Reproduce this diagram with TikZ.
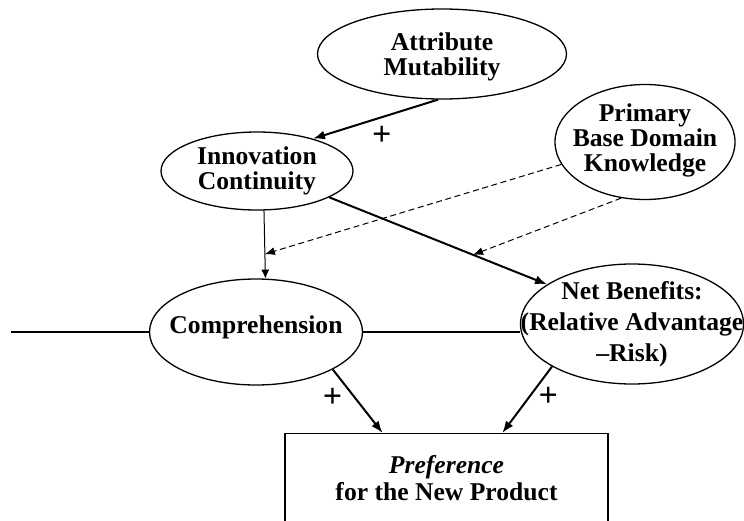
\documentclass[tikz,border=0pt]{standalone}
\usepackage{fontspec}
\setmainfont{Liberation Serif}
\usetikzlibrary{shapes.geometric,arrows.meta,calc}

\tikzset{
  oval/.style={ellipse, draw, line width=0.65pt, inner sep=0pt},
  txt/.style={font=\fontsize{12.8}{12.5}\selectfont\bfseries, align=center, inner sep=0pt},
  outcome/.style={draw, line width=0.7pt, minimum width=161.5pt, inner xsep=0pt, inner ysep=11pt,
    font=\fontsize{12.8}{13.5}\selectfont\bfseries, align=center},
  arr/.style={-{Latex[length=6pt,width=4.5pt]}, line width=1pt},
  thinarr/.style={-{Latex[length=4.5pt,width=4pt]}, line width=0.5pt},
  dasharr/.style={-{Latex[length=5pt,width=4pt]}, line width=0.5pt, dash pattern=on 3pt off 1.8pt},
  plus/.style={font=\fontsize{17}{17}\selectfont\bfseries, inner sep=1pt},
}

\begin{document}
\begin{tikzpicture}[x=0.5pt, y=-0.5pt]
\useasboundingbox (0,0) rectangle (744,520);

\node[oval, minimum width=124.5pt, minimum height=45pt,
  label={[txt, yshift=-1.5pt]center:Attribute\\Mutability}] (am) at (442,54) {};
\node[oval, minimum width=96pt, minimum height=39pt,
  label={[txt]center:Innovation\\Continuity}] (ic) at (257,171) {};
\node[oval, minimum width=90pt, minimum height=57.5pt,
  label={[txt, yshift=1pt]center:Primary\\Base Domain\\Knowledge}] (pb) at (645,142) {};
\node[oval, minimum width=106.5pt, minimum height=53pt,
  label={[txt, yshift=2.5pt]center:Comprehension}] (cp) at (256,332) {};
\node[oval, minimum width=111.5pt, minimum height=60pt,
  label={[txt, font=\fontsize{12.8}{15.5}\selectfont\bfseries]center:Net Benefits:\\(Relative Advantage\\--Risk)}] (nb) at (632,324) {};
\node[outcome, anchor=north] (pr) at (446.5,433) {\textit{Preference}\\for the New Product};

\path (cp.west) ++(-138,0) coordinate (lft);

% links
\draw[line width=0.6pt] (lft) -- (cp.west);
\draw[line width=0.6pt] (cp.east) -- (cp.east -| nb.west);

\draw[arr] (am.265) -- node[plus, pos=0.45, below=3pt] {+} (ic.30);
\draw[thinarr] (ic.-80) -- coordinate[pos=0.64] (m1) (cp.80);
\draw[arr] (ic.-20) -- coordinate[pos=0.66] (m2) (nb.155);
\draw[dasharr] (pb.195) -- (m1);
\draw[dasharr] (pb.247) -- (m2);
\draw[arr] (cp.-26) -- node[plus, pos=0.45, left=5pt] {+} ($(pr.north west)!0.303!(pr.north east)$);
\draw[arr] (nb.208) -- node[plus, pos=0.45, right=3pt] {+} ($(pr.north west)!0.672!(pr.north east)$);
\end{tikzpicture}
\end{document}
